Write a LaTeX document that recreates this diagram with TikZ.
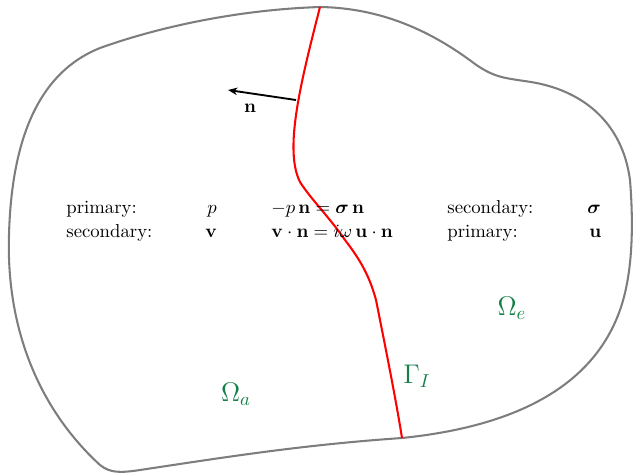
\documentclass[tikz,border=0pt]{standalone}
\usepackage{amsmath,bm}
\usetikzlibrary{arrows.meta}
\definecolor{omegagreen}{RGB}{20,128,72}
\definecolor{outlinegray}{RGB}{125,125,125}
\tikzset{
  outline/.style={draw=outlinegray, line width=1.1pt},
  iface/.style={draw=red, line width=1.1pt},
  normalarrow/.style={draw=black, line width=1pt, -{Stealth[length=5pt,width=4pt]}},
  txt/.style={anchor=base west, inner sep=0pt, font=\normalsize},
  domlabel/.style={text=omegagreen, font=\Large, inner sep=0pt},
}
\begin{document}
\begin{tikzpicture}[x=0.534pt,y=-0.534pt]
\useasboundingbox (0,0) rectangle (634,474);
\draw[outline]
  (320,7) .. controls (230,10) and (150,30) .. (100,48)
  .. controls (50,68) and (12,120) .. (9,235)
  .. controls (6,330) and (40,410) .. (100,465)
  .. controls (110,473) and (120,473) .. (140,470)
  .. controls (220,458) and (300,445) .. (402,438)
  .. controls (500,428) and (590,395) .. (620,310)
  .. controls (632,276) and (634,230) .. (630,180)
  .. controls (622,120) and (580,90) .. (531,82)
  .. controls (505,78) and (495,78) .. (475,64)
  .. controls (430,30) and (380,8) .. cycle;
\draw[iface]
  (320,7) .. controls (300,85) and (284,150) .. (300,182)
  .. controls (310,198) and (330,218) .. (345,240)
  .. controls (362,262) and (370,278) .. (376,300)
  .. controls (386,350) and (396,400) .. (402,438);
\coordinate (nstart) at (296,100);
\coordinate (ntip) at (228,90);
\draw[normalarrow] (nstart) -- (ntip);
\node[inner sep=0pt] (nlab) at (250,108) {$\mathbf{n}$};
% row 1
\node[txt] (r1a) at (66,213) {primary:};
\node[txt] (r1b) at (207,213) {$p$};
\node[txt] (r1c) at (271,213) {$-p\,\mathbf{n}=\bm{\sigma}\,\mathbf{n}$};
\node[txt] (r1d) at (447,213) {secondary:};
\node[txt] (r1e) at (587,213) {$\bm{\sigma}$};
% row 2
\node[txt] (r2a) at (66,237) {secondary:};
\node[txt] (r2b) at (205,237) {$\mathbf{v}$};
\node[txt] (r2c) at (271,237) {$\mathbf{v}\cdot\mathbf{n}=i\omega\,\mathbf{u}\cdot\mathbf{n}$};
\node[txt] (r2d) at (447,237) {primary:};
\node[txt] (r2e) at (589,237) {$\mathbf{u}$};
% domain labels
\node[domlabel] (oma) at (236,394) {$\Omega_a$};
\node[domlabel] (ome) at (512,308) {$\Omega_e$};
\node[domlabel] (gam) at (417,376) {$\Gamma_I$};
\end{tikzpicture}
\end{document}
